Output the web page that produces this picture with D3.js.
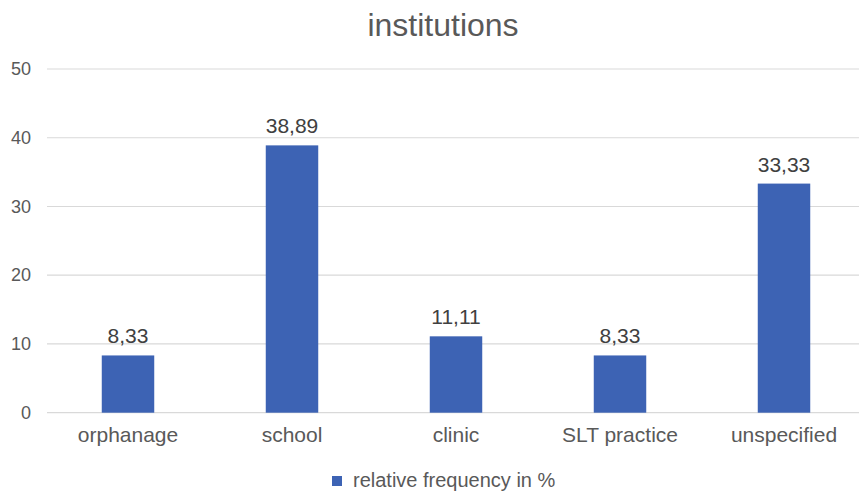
<!DOCTYPE html>
<html>
<head>
<meta charset="utf-8">
<script src="https://cdn.jsdelivr.net/npm/d3@7"></script>
<style>
  html, body { margin: 0; padding: 0; background: #fff; }
  svg { display: block; font-family: "Liberation Sans", Arial, sans-serif; }
</style>
</head>
<body>
<svg id="chart" width="859" height="492"></svg>
<script>
// Share of institutions, relative frequency in %
const categories = ["orphanage", "school", "clinic", "SLT practice", "unspecified"];
const values = [8.33, 38.89, 11.11, 8.33, 33.33];
const valueLabels = ["8,33", "38,89", "11,11", "8,33", "33,33"];
const yTicks = [0, 10, 20, 30, 40, 50];
const seriesName = "relative frequency in %";

const svg = d3.select("#chart");
const W = 859, H = 492;
const textColor = "#595959";
const barColor = "#3d63b4";
const gridColor = "#d9d9d9";
const font = "Liberation Sans, Arial, sans-serif";

const x = d3.scaleBand().domain(categories).range([46, 866]).paddingInner(0.68).paddingOuter(0.34);
const y = d3.scaleLinear().domain([0, 50]).range([412.7, 69]);

// title
svg.append("text")
  .attr("x", 443).attr("y", 36)
  .attr("text-anchor", "middle")
  .attr("font-size", 32)
  .attr("fill", textColor)
  .text("institutions");

// horizontal gridlines
svg.append("g").selectAll("line").data(yTicks).join("line")
  .attr("x1", 47).attr("x2", W)
  .attr("y1", d => y(d)).attr("y2", d => y(d))
  .attr("stroke", gridColor).attr("stroke-width", 1.2);

// y axis labels
const yAxis = d3.axisLeft(y).tickValues(yTicks).tickSize(0).tickPadding(0);
const gy = svg.append("g").attr("transform", "translate(31,0)").call(yAxis);
gy.select(".domain").remove();
gy.selectAll("text").attr("font-size", 18).attr("fill", textColor).attr("font-family", font);

// bars
svg.append("g").selectAll("rect").data(values).join("rect")
  .attr("x", (d, i) => x(categories[i]))
  .attr("width", x.bandwidth())
  .attr("y", d => y(d))
  .attr("height", d => y(0) - y(d))
  .attr("fill", barColor);

// value labels
svg.append("g").selectAll("text").data(values).join("text")
  .attr("x", (d, i) => x(categories[i]) + x.bandwidth() / 2)
  .attr("y", d => y(d) - 12)
  .attr("text-anchor", "middle")
  .attr("font-size", 21)
  .attr("fill", "#404040")
  .text((d, i) => valueLabels[i]);

// category axis
const xAxis = d3.axisBottom(x).tickSize(0).tickPadding(0);
const gx = svg.append("g").attr("transform", "translate(0,427)").call(xAxis);
gx.select(".domain").remove();
gx.selectAll("text").attr("font-size", 21).attr("fill", textColor).attr("font-family", font);

// legend
const lg = svg.append("g").attr("transform", "translate(332,481)");
lg.append("rect").attr("x", 0).attr("y", -5).attr("width", 10).attr("height", 10).attr("fill", barColor);
lg.append("text").attr("x", 21).attr("y", 6)
  .attr("font-size", 20).attr("fill", textColor).text(seriesName);
</script>
</body>
</html>
